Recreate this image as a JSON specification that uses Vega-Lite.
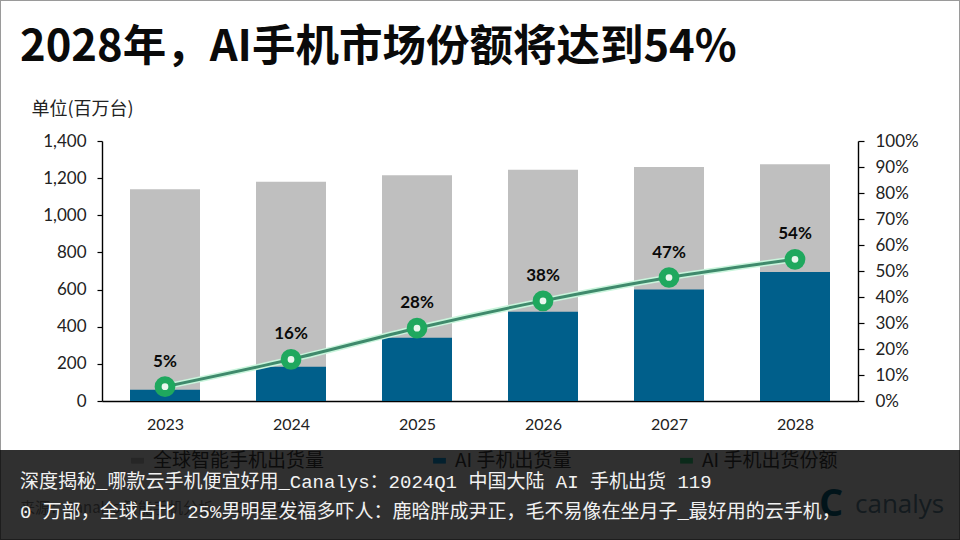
{
  "$schema": "https://vega.github.io/schema/vega-lite/v6.json",
  "width": 756,
  "height": 260,
  "autosize": "none",
  "padding": {"left": 102, "top": 141, "right": 102, "bottom": 139},
  "background": "white",
  "title": {
    "text": "2028年，AI手机市场份额将达到54%",
    "anchor": "start",
    "frame": "group",
    "dx": -82,
    "offset": -71,
    "font": "Noto Sans CJK SC",
    "fontSize": 43.5,
    "fontWeight": 700,
    "color": "#0a0a0a"
  },
  "config": {
    "view": {"stroke": null},
    "axis": {
      "grid": false,
      "domainColor": "#000000",
      "domainWidth": 1.4,
      "tickColor": "#000000",
      "tickWidth": 1.2,
      "labelColor": "#222222",
      "labelFont": "Lato",
      "labelOverlap": false
    }
  },
  "data": {
    "values": [
      {"year": 2023, "total": 1140, "ai": 60, "share": 0.055, "label": "5%"},
      {"year": 2024, "total": 1180, "ai": 185, "share": 0.16, "label": "16%"},
      {"year": 2025, "total": 1215, "ai": 340, "share": 0.28, "label": "28%"},
      {"year": 2026, "total": 1245, "ai": 480, "share": 0.385, "label": "38%"},
      {"year": 2027, "total": 1260, "ai": 600, "share": 0.475, "label": "47%"},
      {"year": 2028, "total": 1275, "ai": 695, "share": 0.545, "label": "54%"}
    ]
  },
  "encoding": {
    "x": {
      "type": "quantitative",
      "scale": {"domain": [2022.5, 2028.5], "nice": false, "zero": false, "padding": 0},
      "axis": {
        "title": null,
        "values": [2023, 2024, 2025, 2026, 2027, 2028],
        "format": "d",
        "ticks": false,
        "labelFontSize": 16,
        "labelPadding": 15,
        "labelFlush": false
      }
    }
  },
  "resolve": {"scale": {"y": "independent"}},
  "layer": [
    {
      "encoding": {
        "x": {"field": "year"},
        "y": {
          "type": "quantitative",
          "stack": null,
          "scale": {"domain": [0, 1400], "nice": false},
          "axis": {
            "orient": "left",
            "values": [0, 200, 400, 600, 800, 1000, 1200, 1400],
            "title": "单位(百万台)",
            "titleFont": "Noto Sans CJK SC",
            "titleFontSize": 18,
            "titleFontWeight": 400,
            "titleColor": "#222222",
            "titleAngle": 0,
            "titleAlign": "left",
            "titleBaseline": "middle",
            "titleX": -71,
            "titleY": -32,
            "tickSize": 5,
            "labelPadding": 11,
            "labelFontSize": 17
          }
        }
      },
      "layer": [
        {
          "mark": {"type": "bar", "orient": "vertical", "width": 70, "color": "#bfbfbf"},
          "encoding": {"y": {"field": "total"}}
        },
        {
          "mark": {"type": "bar", "orient": "vertical", "width": 70, "color": "#005f8b"},
          "encoding": {"y": {"field": "ai"}}
        }
      ]
    },
    {
      "encoding": {
        "x": {"field": "year"},
        "y": {
          "field": "share",
          "type": "quantitative",
          "scale": {"domain": [0, 1], "nice": false},
          "axis": {
            "orient": "right",
            "title": null,
            "values": [0, 0.1, 0.2, 0.3, 0.4, 0.5, 0.6, 0.7, 0.8, 0.9, 1],
            "format": ".0%",
            "tickSize": 6,
            "labelPadding": 11,
            "labelFontSize": 17
          }
        }
      },
      "layer": [
        {"mark": {"type": "line", "color": "#c9f5dc", "strokeWidth": 6, "interpolate": "monotone"}},
        {"mark": {"type": "line", "color": "#3f8a6c", "strokeWidth": 3, "interpolate": "monotone"}},
        {
          "mark": {"type": "point", "filled": false, "shape": "circle", "size": 189, "strokeWidth": 7, "stroke": "#1fa85e", "fill": "#e9f7ee", "fillOpacity": 1, "opacity": 1}
        },
        {
          "mark": {"type": "text", "dy": -25, "font": "Lato", "fontWeight": 700, "fontSize": 17, "color": "#0a0a0a"},
          "encoding": {"text": {"field": "label"}}
        }
      ]
    },
    {
      "encoding": {
        "y": {"type": "quantitative", "scale": {"domain": [0, 1400], "nice": false}, "axis": null}
      },
      "layer": [
        {
          "data": {"values": [{"series": "全球智能手机出货量"}, {"series": "AI 手机出货量"}, {"series": "AI 手机出货份额"}]},
          "mark": {"type": "point", "filled": true, "opacity": 0},
          "encoding": {
            "x": {"datum": 2023},
            "y": {"datum": 0},
            "color": {
              "field": "series",
              "type": "nominal",
              "scale": {
                "domain": ["全球智能手机出货量", "AI 手机出货量", "AI 手机出货份额"],
                "range": ["#262626", "#03202e", "#0b2a1a"]
              },
              "legend": {
                "title": null,
                "orient": "none",
                "legendX": 26,
                "legendY": 310,
                "direction": "horizontal",
                "columns": 3,
                "columnPadding": 105,
                "symbolSize": 200,
                "symbolOpacity": 1,
                "symbolType": "M-0.9,-0.4H0.9V0.4H-0.9Z",
                "labelOffset": 6,
                "labelFont": "Noto Sans CJK SC",
                "labelFontSize": 19,
                "labelColor": "#0c0c0c",
                "labelLimit": 300
              }
            }
          }
        },
        {
          "data": {"values": [{"note": "frame"}]},
          "mark": {"type": "rect", "fillOpacity": 0, "stroke": "#9a9a9a", "strokeWidth": 2},
          "encoding": {
            "x": {"datum": 2021.6905},
            "x2": {"datum": 2029.3095},
            "y": {"datum": 2159},
            "y2": {"datum": -748.5}
          }
        },
        {
          "data": {"values": [{"note": "来源：Canalys 智能手机分析，2024年5月"}]},
          "mark": {"type": "text", "align": "left", "baseline": "middle", "font": "Noto Sans CJK SC", "fontSize": 15, "color": "#8a8a8a"},
          "encoding": {
            "x": {"datum": 2021.849},
            "y": {"datum": -576},
            "text": {"field": "note"}
          }
        },
        {
          "data": {"values": [{"note": "C"}]},
          "mark": {"type": "text", "align": "center", "baseline": "middle", "font": "Open Sans", "fontWeight": 700, "fontSize": 38, "color": "#0a6a88"},
          "encoding": {
            "x": {"datum": 2028.286},
            "y": {"datum": -560},
            "text": {"field": "note"}
          }
        },
        {
          "data": {"values": [{"note": "canalys"}]},
          "mark": {"type": "text", "align": "left", "baseline": "middle", "font": "Open Sans", "fontSize": 26, "color": "#6a8fa3"},
          "encoding": {
            "x": {"datum": 2028.476},
            "y": {"datum": -560},
            "text": {"field": "note"}
          }
        },
        {
          "data": {"values": [{"note": "overlay"}]},
          "mark": {"type": "rect", "color": "#000000", "opacity": 0.81},
          "encoding": {
            "x": {"datum": 2021.6905},
            "x2": {"datum": 2029.3095},
            "y": {"datum": -264},
            "y2": {"datum": -748.5}
          }
        },
        {
          "data": {"values": [{"note": "深度揭秘_哪款云手机便宜好用_Canalys：2024Q1 中国大陆 AI 手机出货 119"}]},
          "mark": {"type": "text", "align": "left", "baseline": "middle", "font": "Liberation Mono, Noto Sans CJK SC", "fontSize": 19, "color": "#f2f2f2"},
          "encoding": {
            "x": {"datum": 2021.849},
            "y": {"datum": -436},
            "text": {"field": "note"}
          }
        },
        {
          "data": {"values": [{"note": "0 万部，全球占比 25%男明星发福多吓人：鹿晗胖成尹正，毛不易像在坐月子_最好用的云手机，"}]},
          "mark": {"type": "text", "align": "left", "baseline": "middle", "font": "Liberation Mono, Noto Sans CJK SC", "fontSize": 19, "color": "#f2f2f2"},
          "encoding": {
            "x": {"datum": 2021.849},
            "y": {"datum": -598},
            "text": {"field": "note"}
          }
        }
      ]
    }
  ]
}
